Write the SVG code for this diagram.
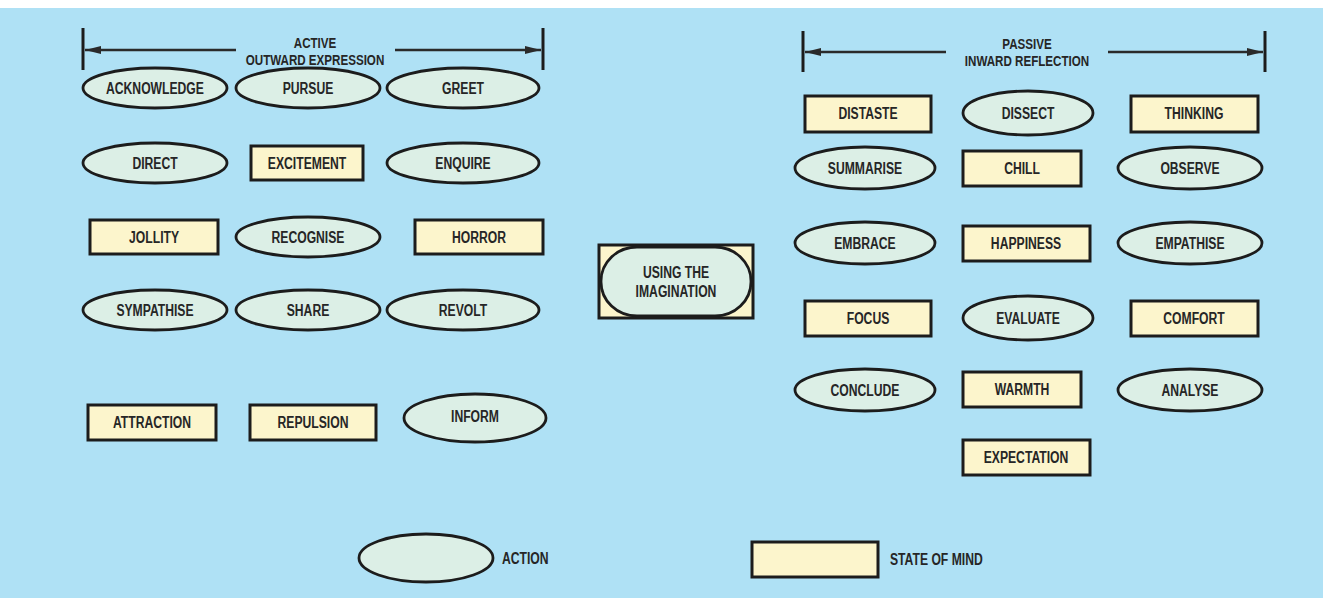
<svg xmlns="http://www.w3.org/2000/svg" width="1323" height="598" viewBox="0 0 1323 598">
<style>
.t{font-family:"Liberation Sans",Arial,sans-serif;font-weight:bold;font-size:16px;fill:#262626;text-anchor:middle;dominant-baseline:central;transform-box:fill-box;transform-origin:center;transform:scaleX(0.76)}
.h{font-size:14.5px;transform:scaleX(0.8)}
.s{text-anchor:start;transform-origin:left center}
.e{fill:#dcefe6;stroke:#1c1c1c;stroke-width:2.8}
.r{fill:#fcf5cc;stroke:#1c1c1c;stroke-width:3}
.ln{stroke:#2a2a2a;stroke-width:2.4;fill:none}
.bar{stroke:#1c1c1c;stroke-width:3}
</style>
<defs>
<marker id="ah" viewBox="0 0 16 8" refX="16" refY="4" markerWidth="16" markerHeight="8" markerUnits="userSpaceOnUse" orient="auto-start-reverse">
<path d="M0,0 L16,4 L0,8 Z" fill="#2a2a2a"/>
</marker>
</defs>
<rect x="0" y="0" width="1323" height="598" fill="#ffffff"/>
<rect x="0" y="8" width="1323" height="590" fill="#afe1f5"/>

<g id="connectors">
<line class="bar" x1="83" y1="28" x2="83" y2="70"/>
<line class="bar" x1="543" y1="28" x2="543" y2="70"/>
<line class="ln" x1="85" y1="50" x2="236" y2="50" marker-start="url(#ah)"/>
<line class="ln" x1="395" y1="50" x2="541" y2="50" marker-end="url(#ah)"/>
<line class="bar" x1="803" y1="31" x2="803" y2="72"/>
<line class="bar" x1="1265" y1="31" x2="1265" y2="72"/>
<line class="ln" x1="805" y1="52" x2="946" y2="52" marker-start="url(#ah)"/>
<line class="ln" x1="1108" y1="52" x2="1263" y2="52" marker-end="url(#ah)"/>
</g>

<g id="hdr-active"><text class="t h" x="315" y="43">ACTIVE</text><text class="t h" x="315" y="60">OUTWARD EXPRESSION</text></g>
<g id="hdr-passive"><text class="t h" x="1027" y="44">PASSIVE</text><text class="t h" x="1027" y="61">INWARD REFLECTION</text></g>

<g id="acknowledge"><ellipse class="e" cx="155" cy="88" rx="72" ry="20"/><text class="t" x="155" y="88">ACKNOWLEDGE</text></g>
<g id="pursue"><ellipse class="e" cx="308" cy="88" rx="72" ry="20"/><text class="t" x="308" y="88">PURSUE</text></g>
<g id="greet"><ellipse class="e" cx="463" cy="88" rx="76" ry="20"/><text class="t" x="463" y="88">GREET</text></g>

<g id="direct"><ellipse class="e" cx="155" cy="163" rx="72" ry="20"/><text class="t" x="155" y="163">DIRECT</text></g>
<g id="excitement"><rect class="r" x="251" y="146" width="112" height="34"/><text class="t" x="307" y="163">EXCITEMENT</text></g>
<g id="enquire"><ellipse class="e" cx="463" cy="163" rx="76" ry="20"/><text class="t" x="463" y="163">ENQUIRE</text></g>

<g id="jollity"><rect class="r" x="90" y="220" width="128" height="34"/><text class="t" x="154" y="237">JOLLITY</text></g>
<g id="recognise"><ellipse class="e" cx="308" cy="237" rx="72" ry="20"/><text class="t" x="308" y="237">RECOGNISE</text></g>
<g id="horror"><rect class="r" x="415" y="220" width="128" height="34"/><text class="t" x="479" y="237">HORROR</text></g>

<g id="sympathise"><ellipse class="e" cx="155" cy="310" rx="72" ry="20"/><text class="t" x="155" y="310">SYMPATHISE</text></g>
<g id="share"><ellipse class="e" cx="308" cy="310" rx="72" ry="20"/><text class="t" x="308" y="310">SHARE</text></g>
<g id="revolt"><ellipse class="e" cx="463" cy="310" rx="76" ry="20"/><text class="t" x="463" y="310">REVOLT</text></g>

<g id="attraction"><rect class="r" x="88" y="405" width="128" height="35"/><text class="t" x="152" y="422">ATTRACTION</text></g>
<g id="repulsion"><rect class="r" x="250" y="405" width="126" height="35"/><text class="t" x="313" y="422">REPULSION</text></g>
<g id="inform"><ellipse class="e" cx="475" cy="418" rx="71" ry="24"/><text class="t" x="475" y="416">INFORM</text></g>

<g id="imagination"><rect class="r" x="599" y="245" width="154" height="73"/><rect class="e" x="601" y="247" width="150" height="69" rx="36" ry="34"/><text class="t" x="676" y="272">USING THE</text><text class="t" x="676" y="291">IMAGINATION</text></g>

<g id="distaste"><rect class="r" x="805" y="96" width="126" height="36"/><text class="t" x="868" y="113">DISTASTE</text></g>
<g id="dissect"><ellipse class="e" cx="1028" cy="113" rx="65" ry="22"/><text class="t" x="1028" y="113">DISSECT</text></g>
<g id="thinking"><rect class="r" x="1131" y="96" width="127" height="36"/><text class="t" x="1194" y="113">THINKING</text></g>

<g id="summarise"><ellipse class="e" cx="865" cy="168" rx="70" ry="21"/><text class="t" x="865" y="168">SUMMARISE</text></g>
<g id="chill"><rect class="r" x="963" y="151" width="118" height="35"/><text class="t" x="1022" y="168">CHILL</text></g>
<g id="observe"><ellipse class="e" cx="1190" cy="168" rx="72" ry="21"/><text class="t" x="1190" y="168">OBSERVE</text></g>

<g id="embrace"><ellipse class="e" cx="865" cy="243" rx="70" ry="21"/><text class="t" x="865" y="243">EMBRACE</text></g>
<g id="happiness"><rect class="r" x="963" y="226" width="127" height="35"/><text class="t" x="1026" y="243">HAPPINESS</text></g>
<g id="empathise"><ellipse class="e" cx="1190" cy="243" rx="72" ry="21"/><text class="t" x="1190" y="243">EMPATHISE</text></g>

<g id="focus"><rect class="r" x="805" y="301" width="126" height="35"/><text class="t" x="868" y="318">FOCUS</text></g>
<g id="evaluate"><ellipse class="e" cx="1028" cy="318" rx="65" ry="22"/><text class="t" x="1028" y="318">EVALUATE</text></g>
<g id="comfort"><rect class="r" x="1131" y="301" width="127" height="35"/><text class="t" x="1194" y="318">COMFORT</text></g>

<g id="conclude"><ellipse class="e" cx="865" cy="390" rx="70" ry="21"/><text class="t" x="865" y="390">CONCLUDE</text></g>
<g id="warmth"><rect class="r" x="963" y="372" width="118" height="35"/><text class="t" x="1022" y="389">WARMTH</text></g>
<g id="analyse"><ellipse class="e" cx="1190" cy="390" rx="72" ry="21"/><text class="t" x="1190" y="390">ANALYSE</text></g>

<g id="expectation"><rect class="r" x="963" y="440" width="127" height="35"/><text class="t" x="1026" y="457">EXPECTATION</text></g>

<g id="legend-action"><ellipse class="e" cx="426" cy="558" rx="67" ry="24"/><text class="t s" x="502" y="558">ACTION</text></g>
<g id="legend-state"><rect class="r" x="752" y="542" width="126" height="35"/><text class="t s" x="890" y="559">STATE OF MIND</text></g>
</svg>
